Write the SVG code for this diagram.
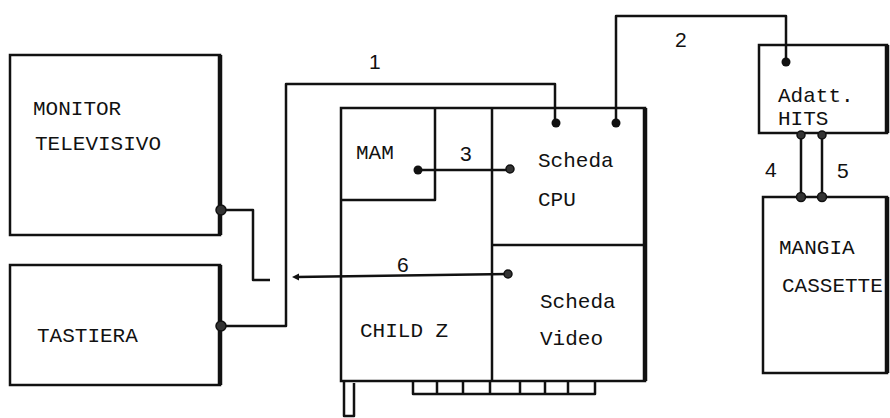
<svg xmlns="http://www.w3.org/2000/svg" width="890" height="418" viewBox="0 0 890 418">
<style>
.box{fill:none;stroke:#111;stroke-width:2.5}
.thick{stroke:#111;stroke-width:4.5;fill:none}
.ln{fill:none;stroke:#111;stroke-width:2.5;stroke-linejoin:round}
.dot{fill:#111;stroke:none}
.ring{fill:#333;stroke:#111;stroke-width:1.5}
.t{font-family:"Liberation Mono","Courier New",monospace;font-size:21px;fill:#111}
.n{font-family:"Liberation Sans",Arial,sans-serif;font-size:21px;fill:#111}
</style>
<rect width="890" height="418" fill="#fff"/>
<g id="monitor">
<rect class="box" x="10" y="55" width="210" height="180"/>
<line class="thick" x1="220" y1="55" x2="220" y2="235"/>
<text class="t" x="33" y="115">MONITOR</text>
<text class="t" x="35" y="150">TELEVISIVO</text>
</g>
<g id="tastiera">
<rect class="box" x="10" y="265" width="210" height="120"/>
<line class="thick" x1="220" y1="265" x2="220" y2="385"/>
<text class="t" x="37" y="342">TASTIERA</text>
</g>
<g id="childz">
<rect class="box" x="341" y="108" width="304" height="273"/>
<line class="thick" x1="645" y1="108" x2="645" y2="381"/>
<path class="ln" d="M413,381 V394 H595 V381 M437,381 V394 M463,381 V394 M490,381 V394 M520,381 V394 M545,381 V394 M568,381 V394"/>
<path class="ln" d="M344,381 V416 H354 V383"/>
<text class="t" x="360" y="337">CHILD Z</text>
</g>
<g id="mam">
<path class="ln" d="M435,108 V200 H341"/>
<text class="t" x="356" y="159">MAM</text>
</g>
<g id="cpu">
<line class="ln" x1="492" y1="108" x2="492" y2="381"/>
<text class="t" x="538" y="167">Scheda</text>
<text class="t" x="538" y="206">CPU</text>
</g>
<g id="video">
<line class="ln" x1="492" y1="245" x2="645" y2="245"/>
<text class="t" x="540" y="308">Scheda</text>
<text class="t" x="540" y="345">Video</text>
</g>
<g id="adatt">
<rect class="box" x="759" y="45" width="128" height="88"/>
<line class="thick" x1="887" y1="45" x2="887" y2="133"/>
<text class="t" x="778" y="102">Adatt.</text>
<text class="t" x="778" y="125">HITS</text>
</g>
<g id="mangia">
<rect class="box" x="763" y="197" width="124" height="176"/>
<line class="thick" x1="887" y1="197" x2="887" y2="373"/>
<text class="t" x="779" y="254">MANGIA</text>
<text class="t" x="782" y="292">CASSETTE</text>
</g>
<g id="connectors">
<path class="ln" d="M220,210 H253 V280 H270"/>
<path class="ln" d="M296,277 L508,274"/>
<path class="dot" d="M292,277 L299,273.5 L299,280.5 Z"/>
<path class="ln" d="M220,326 H286 V84 H555 V122"/>
<path class="ln" d="M616,122 V16 H786 V62"/>
<path class="ln" d="M418,170 H510"/>
<path class="ln" d="M801,135 V197"/>
<path class="ln" d="M822,135 V197"/>
<circle class="ring" cx="221" cy="210" r="5"/>
<circle class="ring" cx="221" cy="326" r="5"/>
<circle class="dot" cx="556" cy="123" r="4.5"/>
<circle class="dot" cx="616" cy="123" r="4.5"/>
<circle class="dot" cx="786" cy="62" r="4.5"/>
<circle class="dot" cx="418" cy="170" r="4.5"/>
<circle class="ring" cx="510" cy="169" r="4"/>
<circle class="ring" cx="508" cy="274" r="4"/>
<circle class="ring" cx="801" cy="135" r="4"/>
<circle class="ring" cx="822" cy="135" r="4"/>
<circle class="ring" cx="801" cy="197" r="4.5"/>
<circle class="ring" cx="822" cy="197" r="4.5"/>
<text class="n" x="369" y="69">1</text>
<text class="n" x="675" y="47">2</text>
<text class="n" x="460" y="161">3</text>
<text class="n" x="765" y="177">4</text>
<text class="n" x="837" y="178">5</text>
<text class="n" x="397" y="272">6</text>
</g>
</svg>
